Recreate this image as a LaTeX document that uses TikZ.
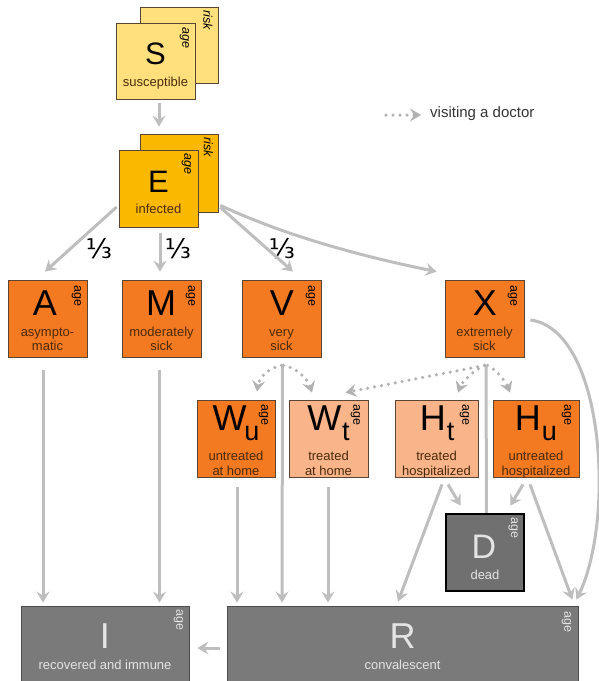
\documentclass[tikz,border=0pt]{standalone}
\usepackage{fontspec}
\setmainfont{Liberation Sans}
\newfontfamily\djvfont{DejaVu Sans}
\usetikzlibrary{arrows.meta,calc}
\definecolor{sfill}{HTML}{FFE07C}
\definecolor{efill}{HTML}{FBB800}
\definecolor{ofill}{HTML}{F47A22}
\definecolor{lfill}{HTML}{F9B48A}
\definecolor{gfill}{HTML}{7A7A7A}
\definecolor{dfill}{HTML}{707070}
\definecolor{bord}{HTML}{5A4535}
\definecolor{agray}{HTML}{BEBEBE}
\definecolor{dotgray}{HTML}{B2B2B2}
\definecolor{subc}{HTML}{4A2A0A}
\definecolor{lighttxt}{HTML}{E4E4E4}
\definecolor{legtxt}{HTML}{333333}
\begin{document}
\begin{tikzpicture}[x=1pt,y=-1pt,
 box/.style={draw=bord, line width=0.8pt, inner sep=0pt, minimum width=79pt, minimum height=77pt},
 grbox/.style={draw=black!70, line width=0.8pt, fill=gfill, inner sep=0pt, minimum width=168pt, minimum height=84pt},
 big/.style={font=\fontsize{36}{36}\selectfont, inner sep=0pt, anchor=base},
 bigS/.style={font=\fontsize{31}{31}\selectfont, inner sep=0pt, anchor=base},
 sub/.style={font=\fontsize{13}{14}\selectfont, text=subc, inner sep=0pt, anchor=base},
 agel/.style={font=\fontsize{12.5}{12.5}\selectfont, rotate=-90, anchor=west, inner sep=0pt},
 flow/.style={draw=agray, line width=3pt, -{Stealth[length=11pt,width=13pt,inset=4pt]}},
 plainline/.style={draw=agray, line width=3pt},
 visit/.style={draw=dotgray, line width=3.5pt, -{Stealth[length=11pt,width=13pt,inset=4pt]}, dash pattern=on 0pt off 7pt, line cap=round},
 fraclab/.style={font=\djvfont\fontsize{27}{27}\selectfont, inner sep=0pt},
]
\useasboundingbox (0,0) rectangle (599,681);

% ---------- boxes ----------
\node[box, fill=sfill, minimum width=78pt, minimum height=76pt] (Sb) at (179,45) {};
\node[box, fill=sfill, minimum height=76pt] (S) at (155.5,61) {};
\node[box, fill=efill, minimum width=78pt, minimum height=78pt] (Eb) at (179,173) {};
\node[box, fill=efill] (E) at (158.5,188.5) {};

\node[box, fill=ofill] (A) at (47.5,318.5) {};
\node[box, fill=ofill] (M) at (161.5,318.5) {};
\node[box, fill=ofill] (V) at (281.5,318.5) {};
\node[box, fill=ofill] (X) at (484.5,318.5) {};

\node[box, fill=ofill, minimum width=78pt] (Wu) at (236,438.5) {};
\node[box, fill=lfill] (Wt) at (328.5,438.5) {};
\node[box, fill=lfill, minimum width=83pt] (Ht) at (436.5,438.5) {};
\node[box, fill=ofill, minimum width=86pt] (Hu) at (536,438.5) {};

\node[draw=black, line width=2.5pt, fill=dfill, inner sep=0pt, minimum width=78pt, minimum height=77pt] (D) at (485,552.5) {};
\node[grbox] (I) at (105,648) {};
\node[grbox, minimum width=351pt] (R) at (402.5,648) {};

% ---------- letters ----------
\node[bigS] (St) at (155.5,64) {S};
\node[bigS] (Et) at (158.5,192) {E};
\node[big] (At) at (45,315) {A};
\node[big] (Mt) at (161,315) {M};
\node[big] (Vt) at (282,315) {V};
\node[big] (Xt) at (485,315) {X};
\node[big] (Wut) at (236,430) {W\kern-2pt\raisebox{-10pt}{\fontsize{27}{27}\selectfont u}};
\node[big] (Wtt) at (328.5,430) {W\kern1pt\raisebox{-10pt}{\fontsize{27}{27}\selectfont t}};
\node[big] (Htt) at (437,430) {H\kern1pt\raisebox{-10pt}{\fontsize{27}{27}\selectfont t}};
\node[big] (Hut) at (536,430) {H\kern1pt\raisebox{-10pt}{\fontsize{27}{27}\selectfont u}};
\node[big, font=\fontsize{34}{34}\selectfont, text=lighttxt] (Dt) at (484,558) {D};
\node[big, text=lighttxt] (It) at (105,648) {I};
\node[big, text=lighttxt] (Rt) at (402.5,648) {R};

% ---------- subtitles ----------
\node[sub] (Ss) at (155.5,86.5) {susceptible};
\node[sub] (Es) at (158.5,213.5) {infected};
\node[sub] (As1) at (47.5,336) {asympto-};
\node[sub] (As2) at (47.5,350) {matic};
\node[sub] (Ms1) at (161.5,336) {moderately};
\node[sub] (Ms2) at (161.5,350) {sick};
\node[sub] (Vs1) at (281.5,336) {very};
\node[sub] (Vs2) at (281.5,350) {sick};
\node[sub] (Xs1) at (484.5,336) {extremely};
\node[sub] (Xs2) at (484.5,350) {sick};
\node[sub] (Wus1) at (236,460) {untreated};
\node[sub] (Wus2) at (236,475) {at home};
\node[sub] (Wts1) at (328.5,460) {treated};
\node[sub] (Wts2) at (328.5,475) {at home};
\node[sub] (Hts1) at (436.5,460) {treated};
\node[sub] (Hts2) at (436.5,475) {hospitalized};
\node[sub] (Hus1) at (536,460) {untreated};
\node[sub] (Hus2) at (536,475) {hospitalized};
\node[sub, text=lighttxt] (Ds) at (485,579) {dead};
\node[sub, text=lighttxt] (Is) at (105,669) {recovered and immune};
\node[sub, text=lighttxt] (Rs) at (402.5,669) {convalescent};

% ---------- age / risk ----------
\node[agel, font=\fontsize{12.5}{12.5}\selectfont\itshape] (Sr) at ($(Sb.north east)+(-10.5,4)$) {risk};
\node[agel, font=\fontsize{12.5}{12.5}\selectfont\itshape] (Sa) at ($(S.north east)+(-11,5)$) {age};
\node[agel, font=\fontsize{12.5}{12.5}\selectfont\itshape] (Er) at ($(Eb.north east)+(-10,4)$) {risk};
\node[agel, font=\fontsize{12.5}{12.5}\selectfont\itshape] (Ea) at ($(E.north east)+(-12,4)$) {age};
\node[agel] (Aa) at ($(A.north east)+(-11,6)$) {age};
\node[agel] (Ma) at ($(M.north east)+(-11,6)$) {age};
\node[agel] (Va) at ($(V.north east)+(-11,6)$) {age};
\node[agel] (Xa) at ($(X.north east)+(-12,6)$) {age};
\node[agel] (Wua) at ($(Wu.north east)+(-12,5)$) {age};
\node[agel] (Wta) at ($(Wt.north east)+(-13,5)$) {age};
\node[agel] (Hta) at ($(Ht.north east)+(-14,5)$) {age};
\node[agel] (Hua) at ($(Hu.north east)+(-13,5)$) {age};
\node[agel, text=lighttxt] (Da) at ($(D.north east)+(-12,5)$) {age};
\node[agel, text=lighttxt] (Ia) at ($(I.north east)+(-11,4)$) {age};
\node[agel, text=lighttxt] (Ra) at ($(R.north east)+(-12,6)$) {age};

% ---------- fractions ----------
\node[fraclab] (f1) at (99,249) {⅓};
\node[fraclab] (f2) at (178,249) {⅓};
\node[fraclab] (f3) at (282,249) {⅓};

% ---------- legend ----------
\coordinate (legA) at (386,115);
\coordinate (legB) at (421,115);
\draw[visit] (legA) -- (legB);
\node[anchor=west, inner sep=0pt, font=\fontsize{15}{15}\selectfont, text=legtxt] (legT) at (430,114) {visiting a doctor};

% ---------- solid flows ----------
\draw[flow] ([xshift=3.5pt,yshift=-4pt]S.south) -- ([xshift=0.5pt,yshift=23pt]E.north);
\draw[flow] ([xshift=-2pt,yshift=-18.5pt]E.west) -- ([xshift=-2.5pt,yshift=8pt]A.north);
\draw[flow] ([xshift=1.5pt,yshift=-6pt]E.south) -- ([xshift=-1.5pt,yshift=8pt]M.north);
\draw[flow] ([xshift=2pt,yshift=5pt]Eb.south east) -- ([xshift=11.5pt,yshift=8pt]V.north);
\draw[flow] ([xshift=2pt,yshift=7pt]Eb.south east) .. controls (290,238) and (370,258) .. ([xshift=-8pt,yshift=8pt]X.north west);

\draw[flow] ([xshift=-4.5pt,yshift=-13pt]A.south) -- ([xshift=-62pt,yshift=3pt]I.north);
\draw[flow] ([xshift=-2pt,yshift=-13pt]M.south) -- ([xshift=54.5pt,yshift=3pt]I.north);
\draw[flow] ([xshift=1pt,yshift=-8pt]V.south) -- ([xshift=-120.5pt,yshift=3pt]R.north);
\draw[plainline] ([xshift=1.5pt,yshift=-8pt]X.south) -- ([xshift=1.5pt]D.north);
\draw[flow] ([xshift=6pt,yshift=-1.5pt]X.east) .. controls (605,330) and (615,520) .. ([xshift=-2pt,yshift=6pt]R.north east);

\draw[flow] ([xshift=1pt,yshift=-10pt]Wu.south) -- ([xshift=-165.5pt,yshift=3pt]R.north);
\draw[flow] ([xshift=-0.5pt,yshift=-10pt]Wt.south) -- ([xshift=-74.5pt,yshift=3pt]R.north);
\draw[flow] ([xshift=5.5pt,yshift=-7pt]Ht.south) -- ([xshift=-4.5pt,yshift=4pt]R.north);
\draw[flow] ([xshift=11.5pt,yshift=-7pt]Ht.south) -- ([xshift=16pt,yshift=7pt]D.north west);
\draw[flow] ([xshift=-13pt,yshift=-7pt]Hu.south) -- ([xshift=-15pt,yshift=7pt]D.north east);
\draw[flow] ([xshift=-6pt,yshift=-7pt]Hu.south) -- ([xshift=-6pt,yshift=6pt]R.north east);

\draw[flow] ([xshift=-7pt]R.west) -- ([xshift=8pt]I.east);

% ---------- visiting a doctor ----------
\draw[visit] ([yshift=-8pt]V.south) .. controls (268,368) and (259,378) .. ([xshift=21pt,yshift=8pt]Wu.north);
\draw[visit] ([xshift=2pt,yshift=-8pt]V.south) .. controls (298,368) and (308,380) .. ([xshift=-16.5pt,yshift=7pt]Wt.north);
\draw[visit] ([xshift=0pt,yshift=-8pt]X.south) -- ([xshift=-23pt,yshift=7pt]Wt.north east);
\draw[visit] ([xshift=0pt,yshift=-8pt]X.south) .. controls (474,370) and (462,382) .. ([xshift=21.5pt,yshift=7pt]Ht.north);
\draw[visit] ([xshift=3pt,yshift=-8pt]X.south) .. controls (497,370) and (506,382) .. ([xshift=-26pt,yshift=7pt]Hu.north);
\end{tikzpicture}
\end{document}
